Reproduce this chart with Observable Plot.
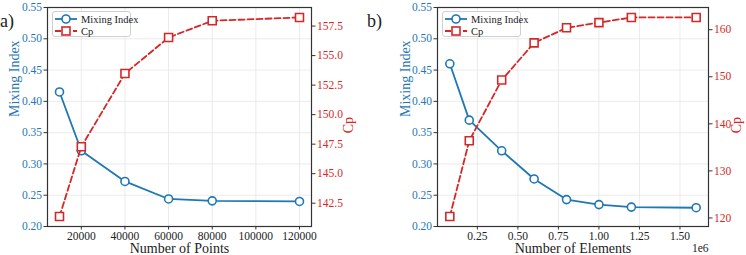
<!DOCTYPE html>
<html><head><meta charset="utf-8">
<script src="https://cdn.jsdelivr.net/npm/d3@7"></script>
<script src="https://cdn.jsdelivr.net/npm/@observablehq/plot@0.6"></script>
<style>
body{margin:0;background:#fff;}
#root{position:relative;width:746px;height:255px;font-family:"Liberation Serif","Times New Roman",Times,serif;color:#222;overflow:hidden;}
#root svg, #root svg text, #root svg g{font-family:"Liberation Serif","Times New Roman",Times,serif !important;font-variant:normal !important;font-variant-numeric:normal !important;}
.layer{position:absolute;top:0;}
.plabel{position:absolute;font-size:18px;line-height:18px;}
.legend{position:absolute;box-sizing:border-box;border:1px solid #d0d0d0;border-radius:3px;background:rgba(255,255,255,0.85);font-size:10.5px;font-family:"Liberation Serif","Times New Roman",Times,serif;}
.legend .item{position:absolute;left:0;height:12px;display:flex;align-items:center;white-space:nowrap;}
.legend svg{display:block;margin-right:3px;}
</style></head><body><div id="root"></div>
<script>
// ---- data ----
const pointsA   = [10000, 20000, 40000, 60000, 80000, 120000];
const mixingA   = [0.415, 0.321, 0.272, 0.244, 0.241, 0.240];
const cpA       = [141.37, 147.28, 153.48, 156.53, 157.95, 158.23];

const elementsB = [80000, 200000, 400000, 600000, 800000, 1000000, 1200000, 1600000];
const mixingB   = [0.460, 0.370, 0.321, 0.276, 0.243, 0.235, 0.231, 0.230];
const cpB       = [120.3, 136.4, 149.3, 157.2, 160.4, 161.5, 162.6, 162.6];

const mixingTicks = [0.20, 0.25, 0.30, 0.35, 0.40, 0.45, 0.50, 0.55];
const xTicksA  = [20000, 40000, 60000, 80000, 100000, 120000];
const xTicksB  = [250000, 500000, 750000, 1000000, 1250000, 1500000];
const cpTicksA = [142.5, 145, 147.5, 150, 152.5, 155, 157.5];
const cpTicksB = [120, 130, 140, 150, 160];

const BLUE = "#1f77b4", RED = "#d62728", DARK = "#333";
const FONT = "Liberation Serif";

function pad(v) { const lo = d3.min(v), hi = d3.max(v), r = hi - lo; return [lo - 0.05 * r, hi + 0.05 * r]; }

const root = document.getElementById("root");

function panel(o) {
  const rows = o.xs.map((x, i) => ({x, mix: o.mix[i], cp: o.cp[i]}));
  const dims = {width: 373, height: 255, marginTop: 7, marginBottom: 29, marginLeft: o.ml, marginRight: o.mr,
    style: {fontFamily: FONT, fontSize: "11px", background: "transparent", overflow: "visible"}};
  const xdom = pad(o.xs);
  const base = Plot.plot({
    ...dims,
    x: {domain: xdom},
    y: {domain: [0.2, 0.55]},
    marks: [
      Plot.gridX(o.xTicks, {stroke: "#e6e6e6", strokeOpacity: 1, strokeWidth: 0.8}),
      Plot.gridY(mixingTicks, {stroke: "#e6e6e6", strokeOpacity: 1, strokeWidth: 0.8}),
      Plot.axisX(o.xTicks, {tickSize: 3.5, tickPadding: 1.5, tickFormat: o.xFormat, fill: "#222", stroke: DARK, label: null, fontFamily: FONT, fontSize: 11.5}),
      Plot.axisY(mixingTicks, {tickSize: 3.5, tickPadding: 2, tickFormat: d => d.toFixed(2), fill: BLUE, stroke: DARK, label: null, fontFamily: FONT, fontSize: 11.5}),
      Plot.line(rows, {x: "x", y: "mix", stroke: BLUE, strokeWidth: 1.8}),
      Plot.dot(rows, {x: "x", y: "mix", r: 4, fill: "white", stroke: BLUE, strokeWidth: 1.6}),
      Plot.text(["Mixing Index"], {frameAnchor: "left", dx: o.mixDx, rotate: -90, fill: BLUE, fontSize: 14, fontFamily: FONT}),
      Plot.text([o.xLabel], {frameAnchor: "bottom", dy: 22.5, lineAnchor: "middle", fill: "#222", fontSize: 14, fontFamily: FONT}),
      ...(o.sci ? [Plot.text([o.sci], {frameAnchor: "bottom-right", dy: 21.5, lineAnchor: "middle", textAnchor: "end", fill: "#222", fontSize: 11.5, fontFamily: FONT})] : [])
    ]
  });
  const over = Plot.plot({
    ...dims,
    x: {domain: xdom, axis: null},
    y: {domain: pad(o.cp)},
    marks: [
      Plot.axisY(o.cpTicks, {anchor: "right", tickSize: 3.5, tickPadding: 2, tickFormat: o.cpFormat, fill: RED, stroke: DARK, label: null, fontFamily: FONT, fontSize: 11.5}),
      Plot.line(rows, {x: "x", y: "cp", stroke: RED, strokeWidth: 1.8, strokeDasharray: "6,3"}),
      Plot.dot(rows, {x: "x", y: "cp", symbol: "square", r: 4.5, fill: "white", stroke: RED, strokeWidth: 1.6}),
      Plot.text(["Cp"], {frameAnchor: "right", dx: o.cpDx, rotate: -90, fill: RED, fontSize: 14, fontFamily: FONT}),
      Plot.frame({stroke: DARK, strokeWidth: 1.2})
    ]
  });
  for (const s of [base, over]) { s.classList.add("layer"); s.style.left = o.left + "px"; root.appendChild(s); }

  const lg = document.createElement("div");
  lg.className = "legend";
  lg.style.left = (o.left + o.ml + 5) + "px"; lg.style.top = "11px"; lg.style.width = "79px"; lg.style.height = "26px";
  const sw = (color, sym, dash) => `<svg width="24" height="10"><line x1="1" x2="23" y1="5" y2="5" stroke="${color}" stroke-width="1.8" ${dash ? 'stroke-dasharray="6,3"' : ""}/>` +
    (sym === "c" ? `<circle cx="12" cy="5" r="4" fill="white" stroke="${color}" stroke-width="1.6"/>` : `<rect x="8" y="1" width="8" height="8" fill="white" stroke="${color}" stroke-width="1.6"/>`) + `</svg>`;
  lg.innerHTML = `<div class="item" style="top:1px;left:1px">${sw(BLUE, "c", false)}<span>Mixing Index</span></div>` +
                 `<div class="item" style="top:13px;left:1px">${sw(RED, "s", true)}<span>Cp</span></div>`;
  root.appendChild(lg);

  const pl = document.createElement("div");
  pl.className = "plabel"; pl.textContent = o.tag; pl.style.left = o.tagX + "px"; pl.style.top = "12px";
  root.appendChild(pl);
}

panel({left: 0, ml: 47, mr: 62, xs: pointsA, mix: mixingA, cp: cpA, xTicks: xTicksA, xFormat: d => String(d),
  cpTicks: cpTicksA, cpFormat: d => d.toFixed(1), xLabel: "Number of Points", mixDx: -33, cpDx: 37, tag: "a)", tagX: 0});
panel({left: 373, ml: 64, mr: 38, xs: elementsB, mix: mixingB, cp: cpB, xTicks: xTicksB, xFormat: d => (d / 1e6).toFixed(2),
  cpTicks: cpTicksB, cpFormat: d => String(d), xLabel: "Number of Elements", mixDx: -32, cpDx: 28, sci: "1e6", tag: "b)", tagX: 367});
</script></body></html>
